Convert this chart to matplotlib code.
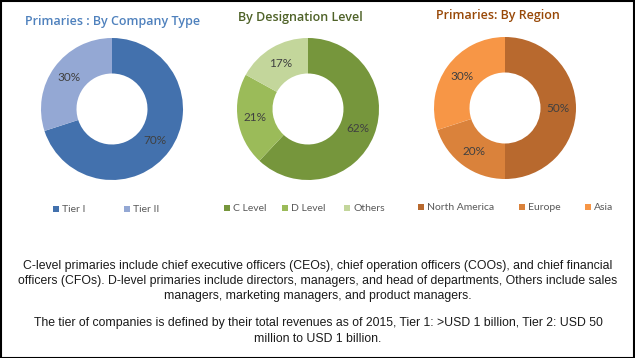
import matplotlib
matplotlib.use("Agg")
import matplotlib.pyplot as plt
from matplotlib.patches import Rectangle

W, H = 635, 358

company_labels = ["Tier I", "Tier II"]
company_values = [70, 30]
company_colors = ["#4371ad", "#94a8d4"]

desig_labels = ["C Level", "D Level", "Others"]
desig_values = [62, 21, 17]
desig_colors = ["#76963c", "#9bbb59", "#c3d69b"]

region_labels = ["North America", "Europe", "Asia"]
region_values = [50, 20, 30]
region_colors = ["#b8692e", "#da823b", "#f79646"]

titles = ["Primaries : By Company Type", "By Designation Level", "Primaries: By Region"]
title_colors = ["#4f81bd", "#4f6228", "#984807"]

footer_lines = [
    "C-level primaries include chief executive officers (CEOs), chief operation officers (COOs), and chief financial",
    "officers (CFOs). D-level primaries include directors, managers, and head of departments, Others include sales",
    "managers, marketing managers, and product managers.",
    "The tier of companies is defined by their total revenues as of 2015, Tier 1: >USD 1 billion, Tier 2: USD 50",
    "million to USD 1 billion.",
]

fig = plt.figure(figsize=(W / 100, H / 100), dpi=100)
fig.patch.set_facecolor("white")

def fx(px):
    return px / W

def fy(py):
    return 1 - py / H

centers = [(112, 109), (308, 109), (505, 108)]
R = 71
title_pos = [(113, 21), (300, 18), (498, 15)]
legend_x = [[56, 127], [227, 285, 347], [421, 522, 588]]
legend_y = [209, 208, 207]

groups = [
    (company_labels, company_values, company_colors),
    (desig_labels, desig_values, desig_colors),
    (region_labels, region_values, region_colors),
]

for i, (labels, values, colors) in enumerate(groups):
    cx, cy = centers[i]
    ax = fig.add_axes([fx(cx - R), fy(cy + R), 2 * R / W, 2 * R / H])
    wedges, texts, autotexts = ax.pie(
        values, colors=colors, startangle=90, counterclock=False,
        radius=1.0, wedgeprops=dict(width=0.5, edgecolor="none"),
        autopct="%d%%", pctdistance=0.75,
        textprops=dict(fontsize=8.5, color="#404040", family="Lato"))
    ax.set_xlim(-1, 1)
    ax.set_ylim(-1, 1)
    ax.set_aspect("auto")
    ax.axis("off")

    tx, ty = title_pos[i]
    fig.text(fx(tx), fy(ty), titles[i], ha="center", va="center",
             fontsize=9, color=title_colors[i], family="Open Sans", fontweight="semibold")

    for j, lab in enumerate(labels):
        sx = legend_x[i][j]
        sy = legend_y[i]
        fig.patches.append(Rectangle((fx(sx - 3), fy(sy + 3)), 6 / W, 6 / H,
                                     transform=fig.transFigure, facecolor=colors[j],
                                     edgecolor="none"))
        fig.text(fx(sx + 6), fy(sy), lab, ha="left", va="center",
                 fontsize=7.5, color="#595959", family="Lato")

footer_y = [266, 281, 296, 323, 339]
for line, y in zip(footer_lines, footer_y):
    fig.text(fx(318), fy(y), line, ha="center", va="center", fontsize=8.8,
             color="#1a1a1a", family=["Liberation Sans", "DejaVu Sans"])

fig.patches.append(Rectangle((0.5 / W, 0.5 / H), 1 - 1.5 / W, 1 - 1.5 / H,
                             transform=fig.transFigure, facecolor="none",
                             edgecolor="black", linewidth=1.5))

fig.savefig("out.png", dpi=100, facecolor="white")
